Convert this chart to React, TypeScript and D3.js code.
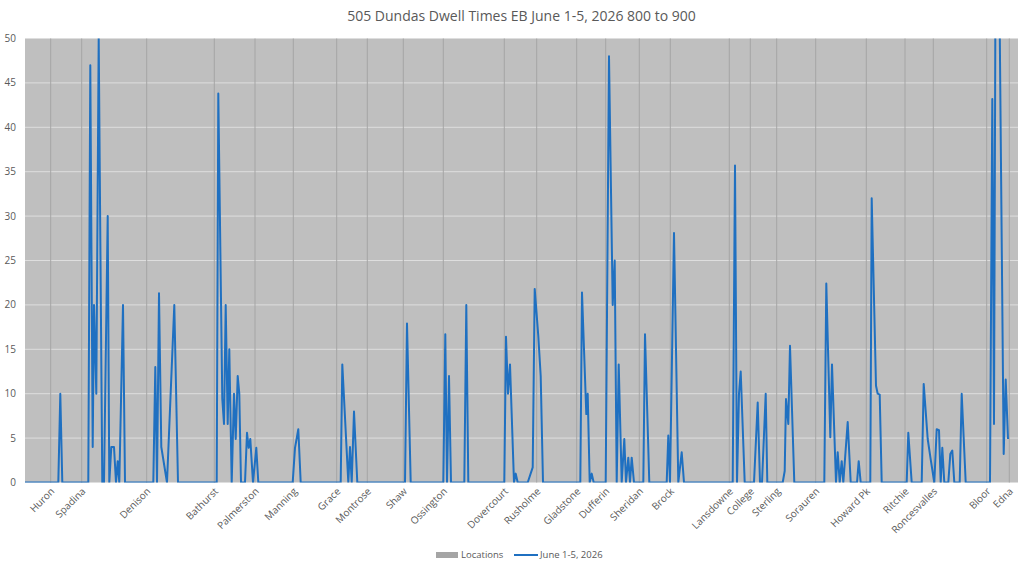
import React from "react";
import * as d3 from "d3";

// stops along the route, at their position on the trace (same units as the dwell samples)
const stopNames = [
  "Huron", "Spadina", "Denison", "Bathurst", "Palmerston", "Manning", "Grace",
  "Montrose", "Shaw", "Ossington", "Dovercourt", "Rusholme", "Gladstone",
  "Dufferin", "Sheridan", "Brock", "Lansdowne", "College", "Sterling",
  "Sorauren", "Howard Pk", "Ritchie", "Roncesvalles", "Bloor", "Edna",
];
const stopPositions = [
  25.7, 56.7, 121.7, 189.3, 230, 268.3, 311.7, 342.3, 378.3, 418.3, 479.3,
  511.7, 551.7, 580.7, 614.3, 645.3, 704.3, 725.3, 751.7, 790.7, 841.3, 880,
  908.3, 961.7, 984.3,
];

// dwell time samples: [position, seconds]
const dwell: [number, number][] = [
  [0, 0],
  [33.3, 0], [35.3, 10], [37.3, 0],
  [63.3, 0], [65.3, 47], [67.7, 4], [69, 20], [71.3, 10], [73.7, 50], [77.3, 0], [79, 0],
  [82.7, 30], [84.3, 0], [86.3, 4], [89, 4], [91, 0], [92.7, 2.4], [94.3, 0], [98, 20], [100, 0],
  [128.3, 0], [130.3, 13], [132, 0], [134, 21.3], [136.3, 4], [142, 0], [149.3, 20], [153, 0],
  [191.7, 0], [193.3, 43.8], [197.3, 9.4], [199, 6.6], [200.7, 20], [202.7, 6.6], [204.3, 15],
  [206.7, 0], [209, 10], [210.7, 4.9], [212.7, 12], [214.3, 10], [216, 0], [220, 0], [222, 5.6],
  [223.7, 3.9], [225.3, 4.9], [228, 0], [231.3, 3.9], [233.3, 0],
  [267.7, 0], [270, 3.9], [273.3, 6], [275.7, 0],
  [315.7, 0], [317.3, 13.3], [323.3, 0], [325, 4], [326.7, 0], [329, 8], [332.3, 0],
  [380, 0], [382, 17.9], [385.7, 0],
  [418.3, 0], [420.3, 16.7], [422, 0], [424, 12], [426, 0],
  [439.3, 0], [441.3, 20], [443.3, 0],
  [479.3, 0], [481, 16.4], [483, 10], [485, 13.3], [489, 0], [490.7, 1], [492.7, 0],
  [502.7, 0], [507.7, 1.7], [509.7, 21.8], [513.3, 16.5], [515.7, 12], [518, 0],
  [555.3, 0], [557, 21.4], [561.3, 7.7], [562.7, 10], [564.7, 0], [566.7, 1], [568.7, 0],
  [580.7, 0], [584, 48], [587.7, 20], [589.7, 25], [591.7, 0], [593.7, 13.3], [596.7, 0],
  [599.3, 4.9], [601, 0], [603.3, 2.8], [605, 0], [606.7, 2.8], [609, 0],
  [618.3, 0], [620, 16.7], [624.3, 0],
  [641.7, 0], [643.3, 5.3], [645, 0], [649, 28.1], [653.3, 0], [656.7, 3.4], [659, 0],
  [707.7, 0], [710, 35.7], [712, 0], [714, 10], [715.7, 12.5], [719.7, 0],
  [729, 0], [732.7, 9], [735, 0], [737, 0], [740.7, 10], [742.3, 0],
  [757.7, 0], [759.7, 1.3], [761, 9.4], [763.3, 6.6], [765, 15.4], [769.3, 0],
  [799.3, 0], [801.3, 22.4], [805.3, 5.1], [807, 13.3], [811, 0], [812.7, 3.4], [814.7, 0],
  [816.7, 2.4], [818.3, 0], [822.7, 6.8], [825.7, 0],
  [832, 0], [833.7, 2.4], [835.7, 0],
  [845.3, 0], [846.7, 32], [851, 10.9], [852.7, 10], [854.7, 9.9], [856.7, 0],
  [881.7, 0], [883.3, 5.6], [886.7, 0],
  [896.7, 0], [898.7, 11.1], [902.7, 4.9], [905.7, 2.6], [909.3, 0], [911.7, 6], [914, 5.9],
  [915.7, 0], [917.3, 3.9], [919.3, 0], [923.3, 0], [925.3, 3.2], [927.3, 3.6], [929.3, 0],
  [934.7, 0], [936.7, 10], [940.7, 0],
  [965, 0], [967.3, 43.2], [969, 6.6], [971.5, 90], [978.7, 3.2], [980.7, 11.6], [983, 4.9],
];

const yTicks = [0, 5, 10, 15, 20, 25, 30, 35, 40, 45, 50];

const W = 1024;
const H = 564;
const margin = { top: 38.5, right: 6, bottom: 81.5, left: 25 };
const font = "'Open Sans', 'Liberation Sans', sans-serif";
const textColor = "#595959";
const blue = "#1f70c1";

export default function App() {
  const x = d3.scaleLinear().domain([0, 993]).range([margin.left, W - margin.right]);
  const y = d3.scaleLinear().domain([0, 50]).range([H - margin.bottom, margin.top]);

  const line = d3
    .line<[number, number]>()
    .x(d => x(d[0]))
    .y(d => y(d[1]));

  const x0 = margin.left;
  const x1 = W - margin.right;
  const y0 = H - margin.bottom;
  const y1 = margin.top;

  return (
    <svg
      width={W}
      height={H}
      style={{ position: "absolute", left: 0, top: 0, background: "#fff" }}
      fontFamily={font}
    >
      <defs>
        <clipPath id="plot">
          <rect x={x0} y={y1} width={x1 - x0} height={y0 - y1} />
        </clipPath>
      </defs>

      <text x={(x0 + x1) / 2} y={21} textAnchor="middle" fontSize={14} fill={textColor}>
        505 Dundas Dwell Times EB June 1-5, 2026 800 to 900
      </text>

      {/* plot area */}
      <rect x={x0} y={y1} width={x1 - x0} height={y0 - y1} fill="#bfbfbf" />

      {/* gridlines */}
      {yTicks.map(t => (
        <line key={t} x1={x0} x2={x1} y1={y(t)} y2={y(t)} stroke="#dedede" strokeWidth={1} />
      ))}

      {/* Locations series */}
      {stopPositions.map((p, i) => (
        <line
          key={stopNames[i]}
          x1={x(p)}
          x2={x(p)}
          y1={y(50)}
          y2={y(0)}
          stroke="#a5a5a5"
          strokeWidth={1}
        />
      ))}

      {/* y axis labels */}
      {yTicks.map(t => (
        <text
          key={t}
          x={16}
          y={y(t)}
          dy="0.35em"
          textAnchor="end"
          fontSize={10}
          fill={textColor}
        >
          {t}
        </text>
      ))}

      {/* x axis labels */}
      {stopPositions.map((p, i) => (
        <text
          key={stopNames[i]}
          transform={`translate(${x(p) + 2},${y0 + 7}) rotate(-45)`}
          dy="0.35em"
          textAnchor="end"
          fontSize={10}
          fill={textColor}
        >
          {stopNames[i]}
        </text>
      ))}

      {/* dwell line */}
      <path
        d={line(dwell) || ""}
        fill="none"
        stroke={blue}
        strokeWidth={2}
        strokeLinejoin="round"
        clipPath="url(#plot)"
      />

      {/* legend */}
      <rect x={436} y={552} width={22} height={6} fill="#a5a5a5" />
      <text x={461} y={555} dy="0.35em" fontSize={9.5} fill={textColor}>
        Locations
      </text>
      <line x1={514} x2={538} y1={555} y2={555} stroke={blue} strokeWidth={2} />
      <text x={540} y={555} dy="0.35em" fontSize={9.5} fill={textColor}>
        June 1-5, 2026
      </text>
    </svg>
  );
}
